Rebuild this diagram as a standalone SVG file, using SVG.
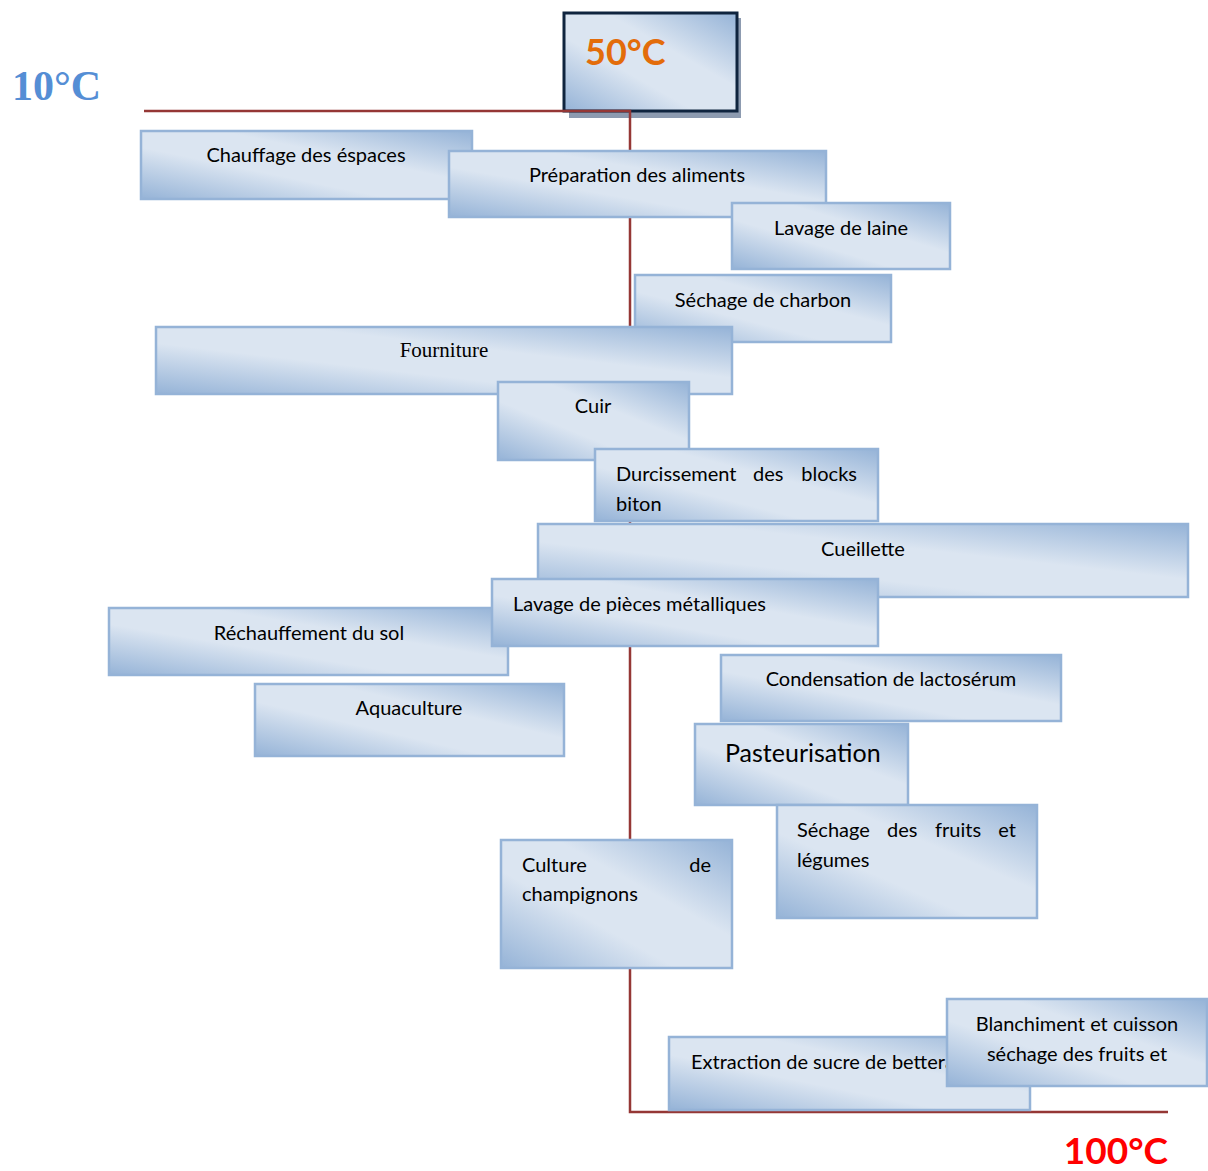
<svg xmlns="http://www.w3.org/2000/svg" width="1208" height="1171" viewBox="0 0 1208 1171">
<defs>
<linearGradient id="g" x1="1" y1="0" x2="0" y2="1">
<stop offset="0" stop-color="#95b3d7"/>
<stop offset="0.38" stop-color="#dbe5f1"/>
<stop offset="0.62" stop-color="#dbe5f1"/>
<stop offset="1" stop-color="#95b3d7"/>
</linearGradient>
</defs>
<style>
.box{fill:url(#g);stroke:#95b3d7;stroke-width:2.5}
.t{font-family:Lato,"Liberation Sans",sans-serif;font-size:20px;fill:#000}
.big{font-size:25px}
.c{text-anchor:middle}
.line{fill:none;stroke:#953735;stroke-width:2.5}
</style>
<rect width="1208" height="1171" fill="#fff"/>
<text x="12" y="100" font-family="'Liberation Serif',serif" font-weight="bold" font-size="42" fill="#558ed5">10°C</text>
<text x="1168" y="1164" text-anchor="end" font-family="Lato,'Liberation Sans',sans-serif" font-weight="bold" font-size="37" fill="#ff0000">100°C</text>
<g id="n-50c">
<rect x="569" y="18" width="172" height="100" fill="#8d9bb0"/>
<rect x="564" y="13" width="173" height="98" fill="url(#g)" stroke="#0f243e" stroke-width="3"/>
<text x="585" y="65" font-family="Lato,'Liberation Sans',sans-serif" font-weight="bold" font-size="36" fill="#e36c0a">50°C</text>
</g>
<g id="connectors">
<polyline class="line" points="144,111 630,111 630,1112 1168,1112"/>
</g>
<g id="n1"><rect class="box" x="141" y="131" width="331" height="68"/><text class="t c" x="306" y="162">Chauffage des éspaces</text></g>
<g id="n2"><rect class="box" x="449" y="151" width="377" height="66"/><text class="t c" x="637" y="182">Préparation des aliments</text></g>
<g id="n3"><rect class="box" x="732" y="203" width="218" height="66"/><text class="t c" x="841" y="235">Lavage de laine</text></g>
<g id="n4"><rect class="box" x="635" y="275" width="256" height="67"/><text class="t c" x="763" y="307">Séchage de charbon</text></g>
<g id="n5"><rect class="box" x="156" y="327" width="576" height="67"/><text x="444" y="357" text-anchor="middle" font-family="'Liberation Serif',serif" font-size="21">Fourniture</text></g>
<g id="n6"><rect class="box" x="498" y="382" width="191" height="78"/><text class="t c" x="593" y="413">Cuir</text></g>
<g id="n7"><rect class="box" x="595" y="449" width="283" height="72"/><text class="t"><tspan x="616" y="481">Durcissement</tspan><tspan x="753" y="481">des</tspan><tspan x="857" y="481" text-anchor="end">blocks</tspan><tspan x="616" y="511">biton</tspan></text></g>
<g id="n8"><rect class="box" x="538" y="524" width="650" height="73"/><text class="t c" x="863" y="556">Cueillette</text></g>
<g id="n10"><rect class="box" x="109" y="608" width="399" height="67"/><text class="t c" x="309" y="640">Réchauffement du sol</text></g>
<g id="n9"><rect class="box" x="492" y="579" width="386" height="67"/><text class="t" x="513" y="611">Lavage de pièces métalliques</text></g>
<g id="n11"><rect class="box" x="255" y="684" width="309" height="72"/><text class="t c" x="409" y="715">Aquaculture</text></g>
<g id="n12"><rect class="box" x="721" y="655" width="340" height="66"/><text class="t c" x="891" y="686">Condensation de lactosérum</text></g>
<g id="n13"><rect class="box" x="695" y="724" width="213" height="81"/><text class="t big" x="725" y="762">Pasteurisation</text></g>
<g id="n14"><rect class="box" x="777" y="805" width="260" height="113"/><text class="t"><tspan x="797" y="837">Séchage</tspan><tspan x="887" y="837">des</tspan><tspan x="935" y="837">fruits</tspan><tspan x="1016" y="837" text-anchor="end">et</tspan><tspan x="797" y="867">légumes</tspan></text></g>
<g id="n15"><rect class="box" x="501" y="840" width="231" height="128"/><text class="t"><tspan x="522" y="872">Culture</tspan><tspan x="711" y="872" text-anchor="end">de</tspan><tspan x="522" y="901">champignons</tspan></text></g>
<g id="n16"><rect class="box" x="669" y="1037" width="361" height="73"/><text class="t" x="691" y="1069">Extraction de sucre de bettera</text></g>
<g id="n17"><rect class="box" x="947" y="999" width="260" height="87"/><text class="t c"><tspan x="1077" y="1031">Blanchiment et cuisson</tspan><tspan x="1077" y="1061">séchage des fruits et</tspan></text></g>
</svg>
